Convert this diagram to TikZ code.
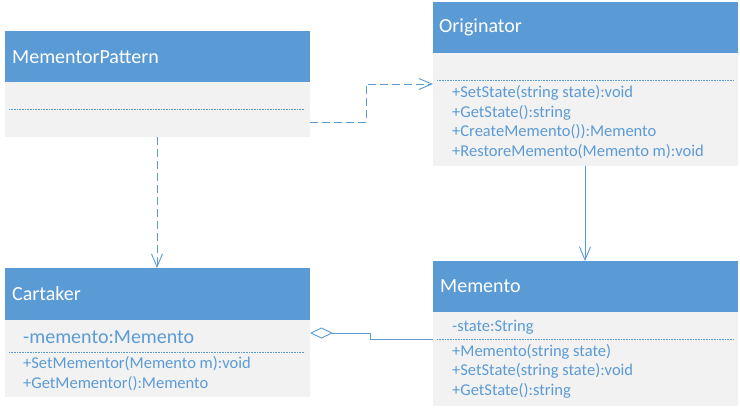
\documentclass[tikz,border=0pt]{standalone}
\usepackage{fontspec}
\setmainfont{Carlito}
\usetikzlibrary{arrows.meta}
\definecolor{hdrblue}{HTML}{5B9BD5}
\definecolor{bodygray}{HTML}{F2F2F2}
\definecolor{txtblue}{HTML}{5B9BD5}
\tikzset{
  hdr/.style={fill=hdrblue, draw=none, inner sep=0pt, outer sep=0pt, anchor=north west},
  bodybox/.style={fill=bodygray, draw=none, inner sep=0pt, outer sep=0pt, anchor=north west},
  title/.style={anchor=west, inner sep=0pt, text=white, font=\fontsize{20}{24}\selectfont},
  member/.style={anchor=west, inner sep=0pt, text=txtblue, font=\fontsize{16.5}{19}\selectfont},
  bigmember/.style={anchor=west, inner sep=0pt, text=txtblue, font=\fontsize{20}{24}\selectfont},
  sep/.style={draw=txtblue, densely dotted, line width=0.6pt},
  dep/.style={draw=hdrblue, line width=0.9pt, dash pattern=on 8pt off 4pt, -{Straight Barb[length=13pt,width=11pt]}},
  assoc/.style={draw=hdrblue, line width=0.9pt, -{Straight Barb[length=13pt,width=11pt]}},
  aggr/.style={draw=hdrblue, line width=0.9pt, {Diamond[open,length=23pt,width=11pt]}-}
}
\begin{document}
\begin{tikzpicture}[x=1pt,y=-1pt]
\useasboundingbox[fill=white] (0,0) rectangle (740,410);
% MementorPattern
\node[hdr, minimum width=305pt, minimum height=51pt] (mpH) at (5,31) {};
\node[bodybox, minimum width=305pt, minimum height=55pt] (mpB) at (5,82) {};
\node[title] (mpT) at (12,57) {MementorPattern};
\draw[sep] (9,109) coordinate (mpS1) -- (305,109) coordinate (mpS2);
% Originator
\node[hdr, minimum width=305pt, minimum height=51pt] (orH) at (433,2) {};
\node[bodybox, minimum width=305pt, minimum height=113pt] (orB) at (433,53) {};
\node[title] (orT) at (439,27) {Originator};
\draw[sep] (437,80) coordinate (orS1) -- (734,80) coordinate (orS2);
\node[member] (or1) at (452,93) {+SetState(string state):void};
\node[member] (or2) at (452,113) {+GetState():string};
\node[member] (or3) at (452,132) {+CreateMemento()):Memento};
\node[member] (or4) at (452,152) {+RestoreMemento(Memento m):void};
% Cartaker
\node[hdr, minimum width=305pt, minimum height=52pt] (caH) at (5,268) {};
\node[bodybox, minimum width=305pt, minimum height=77pt] (caB) at (5,320) {};
\node[title] (caT) at (12,294) {Cartaker};
\node[bigmember] (ca1) at (23,337) {-memento:Memento};
\draw[sep] (9,352) coordinate (caS1) -- (305,352) coordinate (caS2);
\node[member] (ca2) at (23,364) {+SetMementor(Memento m):void};
\node[member] (ca3) at (23,384) {+GetMementor():Memento};
% Memento
\node[hdr, minimum width=305pt, minimum height=51pt] (meH) at (433,261) {};
\node[bodybox, minimum width=305pt, minimum height=94pt] (meB) at (433,312) {};
\node[title] (meT) at (440,286) {Memento};
\node[member] (me1) at (452,327) {-state:String};
\draw[sep] (437,339) coordinate (meS1) -- (734,339) coordinate (meS2);
\node[member] (me2) at (452,352) {+Memento(string state)};
\node[member] (me3) at (452,371) {+SetState(string state):void};
\node[member] (me4) at (452,391) {+GetState():string};
% connectors
\draw[dep] ([yshift=-12.5pt]mpB.east) -- ++(56,0) |- ([yshift=25.5pt]orB.west);
\draw[dep] (mpB.south -| 157,0) -- (caH.north -| 157,0);
\draw[assoc] (orB.south -| 585,0) -- (meH.north -| 585,0);
\draw[aggr] ([yshift=25.5pt]caB.east) -- ++(60,0) |- ([yshift=20pt]meB.west);
\end{tikzpicture}
\end{document}
